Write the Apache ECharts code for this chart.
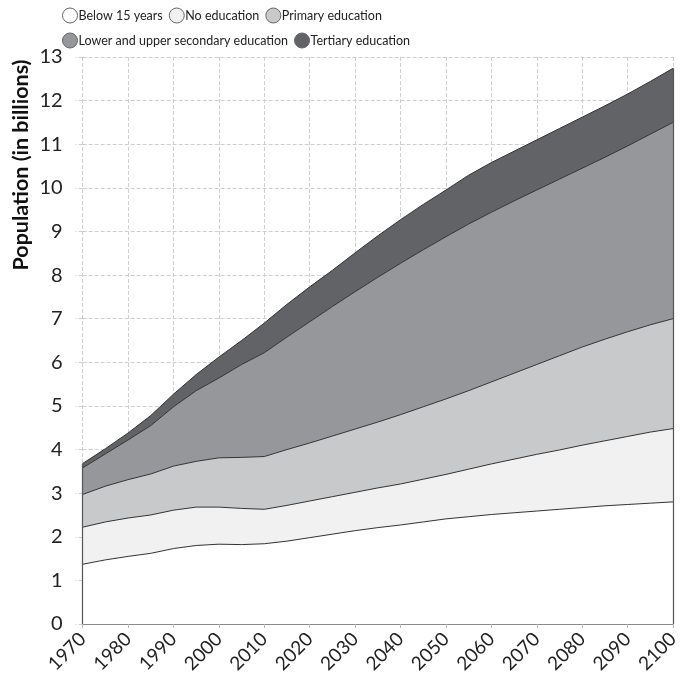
<!DOCTYPE html>
<html>
<head>
<meta charset="utf-8">
<script src="https://cdn.jsdelivr.net/npm/echarts@6/dist/echarts.min.js"></script>
<style>html,body{margin:0;padding:0;background:#fff;}#c{width:687px;height:688px;}</style>
</head>
<body>
<div id="c"></div>
<script>
var years = ['1970','1975','1980','1985','1990','1995','2000','2005','2010','2015','2020','2025','2030','2035','2040','2045','2050','2055','2060','2065','2070','2075','2080','2085','2090','2095','2100'];
var seriesNames = ['Below 15 years','No education','Primary education','Lower and upper secondary education','Tertiary education'];
var below15   = [1.37,1.47,1.55,1.62,1.73,1.80,1.83,1.82,1.84,1.90,1.98,2.06,2.14,2.21,2.27,2.34,2.41,2.46,2.51,2.55,2.59,2.63,2.67,2.71,2.74,2.77,2.80];
var noEdu     = [0.85,0.87,0.88,0.88,0.88,0.88,0.85,0.83,0.79,0.82,0.84,0.86,0.88,0.91,0.94,0.98,1.02,1.09,1.16,1.23,1.30,1.36,1.43,1.49,1.56,1.63,1.68];
var primary   = [0.75,0.82,0.88,0.94,1.01,1.05,1.13,1.17,1.21,1.28,1.33,1.39,1.45,1.51,1.59,1.66,1.73,1.80,1.88,1.97,2.06,2.16,2.25,2.33,2.40,2.46,2.52];
var secondary = [0.61,0.74,0.91,1.11,1.36,1.62,1.83,2.13,2.38,2.58,2.78,2.97,3.15,3.32,3.47,3.60,3.72,3.82,3.89,3.95,4.00,4.05,4.10,4.17,4.26,4.37,4.50];
var tertiary  = [0.10,0.12,0.16,0.23,0.29,0.37,0.48,0.55,0.68,0.75,0.80,0.83,0.89,0.95,1.00,1.04,1.07,1.12,1.14,1.14,1.15,1.16,1.17,1.18,1.19,1.21,1.24];
var fills = ['#ffffff','#f1f1f1','#c8c9cb','#96979b','#626366'];

var values = [below15,noEdu,primary,secondary,tertiary];
var n = years.length;
function total(i){var s=0;for(var k=0;k<values.length;k++)s+=values[k][i];return s;}

var FONT = 'Lato';
var series = values.map(function(v, k){
  var s = {
    name: seriesNames[k], type:'line', stack:'pop', symbol:'none', smooth:false,
    data: v,
    lineStyle:{color:'#333333', width:1},
    itemStyle:{color:fills[k]},
    areaStyle:{color:fills[k], opacity:1}
  };
  if (k === values.length-1) {
    s.markLine = {
      silent:true, symbol:'none', label:{show:false},
      lineStyle:{color:'#555', width:1.2, type:'solid'},
      data:[
        [{coord:[years[0],0]},{coord:[years[0],total(0)]}],
        [{coord:[years[n-1],0]},{coord:[years[n-1],total(n-1)]}]
      ]
    };
  }
  return s;
});

var chart = echarts.init(document.getElementById('c'), null, {renderer:'canvas'});
chart.setOption({
  animation:false,
  backgroundColor:'#fff',
  legend:{
    left:57, top:1, width:385, orient:'horizontal', icon:'circle',
    itemWidth:15, itemHeight:15, itemGap:6, selectedMode:false,
    textStyle:{fontFamily:FONT, fontSize:12.5, lineHeight:19, color:'#222', padding:[0,0,0,-4]},
    data: seriesNames.map(function(nm,k){
      return {name:nm, itemStyle:{color:fills[k], borderColor:'#666', borderWidth:1}};
    })
  },
  grid:{left:82.7, right:14, top:57, bottom:64},
  xAxis:{
    type:'category', data:years, boundaryGap:false,
    axisLine:{show:true, lineStyle:{color:'#8a8a8a', width:1.2}},
    axisTick:{show:true, interval:1, length:6, lineStyle:{color:'#bbb', type:'dashed'}},
    axisLabel:{interval:1, rotate:45, margin:12, fontFamily:FONT, fontSize:19, color:'#222'},
    splitLine:{show:true, interval:1, lineStyle:{color:'#cfcfcf', type:'dashed', width:1}}
  },
  yAxis:{
    type:'value', min:0, max:13, interval:1,
    axisLine:{show:false},
    axisTick:{show:true, length:7, lineStyle:{color:'#cfcfcf', type:'dashed'}},
    axisLabel:{margin:20, fontFamily:FONT, fontSize:20, color:'#222'},
    splitLine:{show:true, lineStyle:{color:'#cfcfcf', type:'dashed', width:1}}
  },
  graphic:[{
    type:'text', x:21, y:165, rotation:Math.PI/2,
    style:{text:'Population (in billions)', fontFamily:FONT, fontWeight:'bold', fontSize:21.5, fill:'#111', align:'center', verticalAlign:'middle'}
  }],
  series:series
});
</script>
</body>
</html>
